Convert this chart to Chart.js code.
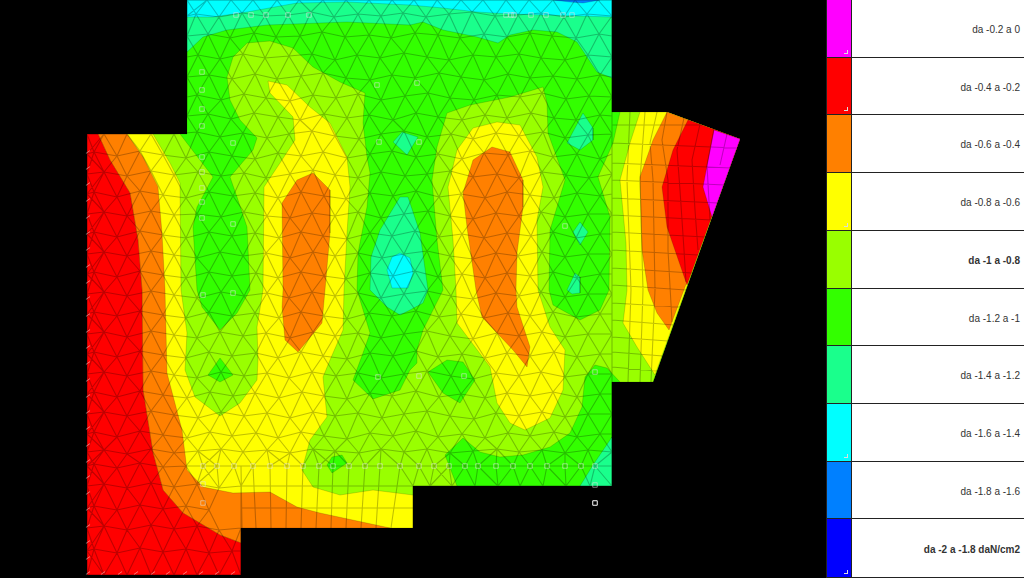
<!DOCTYPE html>
<html>
<head>
<meta charset="utf-8">
<style>
  html, body { margin: 0; padding: 0; background: #000; overflow: hidden; }
  #plot { position: absolute; left: 0; top: 0; }
  #legend { position: absolute; left: 826px; top: 0; width: 198px; height: 578px; font-family: "Liberation Sans", Arial, sans-serif; font-size: 10px; color: #333; }
  .row { position: absolute; left: 0; width: 198px; box-sizing: border-box; border-bottom: 1px solid #222; display: flex; background: #fff; }
  .swatch { width: 26px; border-left: 1px solid #222; border-right: 1px solid #222; box-sizing: border-box; position: relative; }
  .swatch i { position: absolute; right: 3px; bottom: 3px; width: 3px; height: 3px; border-right: 1px solid #ddd; border-bottom: 1px solid #ddd; }
  .label { flex: 1; text-align: right; padding-right: 4px; padding-top: 2px; align-self: center; }
</style>
</head>
<body>
<canvas id="plot" width="1024" height="578"></canvas>
<div id="legend"></div>
<script src="https://cdn.jsdelivr.net/npm/chart.js@4"></script>
<script>
// ================================================
// PRESSURE MAP - contour bands over a FEM mesh
// everything is in plan coordinates
// ================================================

// legend
const legendLabels = ['da -0.2 a 0', 'da -0.4 a -0.2', 'da -0.6 a -0.4', 'da -0.8 a -0.6', 'da -1 a -0.8',
  'da -1.2 a -1', 'da -1.4 a -1.2', 'da -1.6 a -1.4', 'da -1.8 a -1.6', 'da -2 a -1.8 daN/cm2'];
const legendColors = ['#ff00ff', '#ff0000', '#ff8000', '#ffff00', '#99ff00', '#33ff00', '#1aff8c', '#00ffff', '#0080ff', '#0000ff'];
const legendBold = [4, 9];
const legendCorners = [0, 1, 3, 7, 9];

// contour polygons, one list per region
const plateOutline = [[87,134],[187,134],[187,0],[612,0],[612,112],[667,112],[740,139],[653,382],[612,382],[612,486],[413,486],[413,528],[241,528],[241,575],[87,575]];
const topSpring = [[187,0],[612,0],[612,78],[597,72],[587,57],[577,42],[557,32],[533,30],[510,35],[498,43],[477,37],[443,30],[423,22],[410,25],[347,22],[267,25],[227,30],[203,37],[187,52]];
const topCyan = [[187,0],[612,0],[612,17],[510,14],[477,12],[443,8],[410,5],[347,2],[297,3],[247,12],[213,17],[187,17]];
const topBlue = [[553,0],[570,2],[583,3],[600,0]];
const limeMain = [[87,134],[180,134],[213,177],[197,207],[193,227],[197,290],[202,307],[220,330],[237,313],[250,290],[247,227],[237,197],[230,177],[253,150],[257,138],[240,120],[230,100],[227,77],[233,57],[247,43],[270,41],[293,48],[313,67],[340,82],[365,93],[363,123],[367,157],[370,173],[367,207],[358,253],[357,290],[367,323],[370,333],[363,353],[353,380],[373,399],[400,390],[410,370],[417,363],[417,350],[423,330],[433,310],[443,290],[437,240],[432,180],[437,147],[447,113],[470,105],[510,97],[543,87],[547,103],[548,133],[565,180],[557,207],[550,230],[549,290],[553,305],[580,320],[600,310],[609,290],[610,217],[598,177],[613,143],[620,112],[667,112],[740,139],[653,382],[620,382],[607,368],[595,365],[585,377],[582,407],[570,433],[550,447],[523,455],[500,457],[480,452],[463,438],[445,455],[457,486],[413,486],[413,528],[241,528],[241,575],[87,575]];
const greenBlobA = [[428,372],[447,360],[463,362],[475,380],[460,403],[443,393]];
const greenBlobB = [[208,375],[220,358],[233,375],[220,382]];
const greenBlobC = [[327,465],[332,457],[342,455],[347,463],[332,473]];
const springDrop = [[400,197],[408,197],[420,233],[428,290],[423,303],[410,310],[400,315],[387,307],[370,290],[371,257],[380,230]];
const cyanDrop = [[400,253],[410,258],[413,273],[408,288],[392,288],[387,270],[392,257]];
const springIsleA = [[393,142],[402,132],[418,137],[407,155]];
const springIsleB = [[567,143],[583,113],[593,128],[593,140],[580,150]];
const springIsleC = [[573,232],[580,222],[588,232],[580,245]];
const springIsleD = [[567,290],[575,273],[580,277],[580,293],[572,294]];
const springCorner = [[580,486],[593,465],[612,437],[612,486]];
const yellowMain = [[87,134],[153,134],[170,163],[180,183],[181,290],[187,333],[185,370],[195,397],[220,416],[240,403],[257,380],[258,360],[257,327],[263,290],[264,187],[280,163],[295,140],[293,117],[270,93],[268,81],[287,85],[310,107],[330,123],[347,157],[350,187],[347,233],[344,290],[343,330],[330,360],[323,377],[327,417],[310,440],[302,470],[313,487],[340,495],[373,490],[413,495],[413,528],[241,528],[241,575],[87,575]];
const yellowCentre = [[448,187],[457,150],[473,128],[497,122],[520,125],[537,157],[543,187],[537,220],[538,290],[550,327],[565,350],[563,390],[550,418],[525,430],[510,423],[497,403],[490,367],[457,323],[456,290],[453,240]];
const yellowRight = [[640,112],[667,112],[740,139],[655,375],[637,347],[623,323],[627,290],[626,243],[620,180],[630,143]];
const orangeLeft = [[98,134],[127,134],[143,157],[158,187],[162,233],[165,290],[167,373],[182,430],[187,470],[203,487],[233,493],[270,492],[297,507],[320,513],[390,528],[241,528],[241,543],[220,535],[183,513],[163,490],[153,453],[143,390],[142,290],[138,240],[130,193],[110,160]];
const orangeLobeA = [[283,290],[282,203],[297,180],[313,173],[330,190],[330,233],[325,290],[322,323],[298,352],[285,340],[282,307]];
const orangeLobeB = [[463,193],[473,160],[492,147],[510,152],[523,180],[523,207],[517,253],[516,290],[517,307],[530,347],[527,367],[513,350],[482,317],[476,290],[467,227]];
const orangeRight = [[667,112],[740,139],[669,330],[657,313],[648,290],[642,250],[640,177],[653,140]];
const redLeft = [[87,134],[98,134],[110,160],[130,193],[138,240],[142,290],[143,390],[153,453],[163,490],[183,513],[220,535],[241,543],[241,575],[87,575]];
const redRight = [[688,120],[740,139],[687,285],[667,227],[662,187],[673,150]];
const magentaTip = [[714,130],[740,139],[712,217],[703,187]];

// triangular mesh nodes, each row is x,y,x,y,...
const meshRows = [
  [187,0,207,0,231,0,253,0,277,0,299,0,323,0,346,0,369,0,392,0,414,0,437,0,461,0,483,0,506,0,529,0,553,0,575,0,598,0,612,0],
  [187,16,196,14,219,17,242,13,265,16,288,15,311,12,334,17,358,14,381,16,403,13,426,17,449,14,472,12,495,16,518,15,541,13,564,17,587,14,612,16],
  [187,36,208,34,230,38,254,33,276,37,300,36,322,32,345,37,369,35,391,38,415,33,438,35,460,38,484,34,507,37,530,33,552,36,576,38,599,34,612,36],
  [187,57,198,55,220,59,243,54,265,58,289,56,312,54,335,60,357,55,380,58,404,53,427,57,449,60,473,55,496,57,519,54,541,58,565,60,588,55,612,57],
  [187,77,209,75,232,79,255,74,277,79,301,76,323,73,346,78,370,80,392,75,415,78,439,73,461,77,484,80,508,74,530,78,553,76,577,79,600,75,612,77],
  [187,97,197,95,221,100,244,94,266,98,290,101,313,95,336,98,358,94,381,100,405,96,428,93,450,98,474,100,497,95,520,97,542,93,566,99,589,96,612,97],
  [187,116,208,114,231,119,254,113,278,117,300,120,324,114,347,118,369,115,393,120,416,113,438,117,462,120,485,115,507,118,531,113,554,118,576,120,600,115,612,116],
  [87,134,104,134,127,134,151,134,174,134,197,132,220,137,243,133,267,138,289,134,312,131,335,136,359,139,381,134,404,131,427,137,451,134,473,139,496,133,519,136,543,132,565,138,588,135,612,134],
  [87,154,94,152,117,156,140,151,163,155,186,158,209,152,232,156,255,159,278,153,301,156,323,152,347,158,370,154,392,151,416,157,438,154,462,159,484,153,508,155,530,151,553,157,577,154,600,159,612,154],
  [87,174,104,172,127,176,151,171,174,175,198,172,221,176,244,173,266,178,290,174,313,170,335,175,358,178,381,172,405,176,427,174,450,171,473,177,497,174,519,178,542,172,566,175,589,178,612,174],
  [87,194,94,192,117,197,140,191,163,195,186,198,209,192,233,196,255,193,278,198,301,192,324,196,346,199,370,193,393,196,416,191,439,197,461,194,485,198,507,192,530,195,554,198,577,193,600,196,612,194],
  [87,214,104,212,127,216,151,211,174,215,197,214,221,217,244,212,267,216,290,218,312,213,335,216,358,212,381,218,404,214,428,211,450,216,473,219,496,213,519,216,541,212,565,217,588,214,612,214],
  [87,234,94,232,117,237,140,231,163,235,186,238,209,232,232,236,255,233,279,238,301,232,323,236,347,239,370,233,392,236,415,231,439,237,462,234,484,238,507,233,531,236,553,232,576,238,600,234,612,234],
  [87,254,104,252,127,256,151,251,174,255,197,258,220,252,243,256,266,253,290,258,313,252,335,256,358,253,382,258,404,254,427,251,450,256,473,259,496,253,518,256,542,252,565,257,588,254,612,254],
  [87,274,94,272,117,277,140,271,163,275,186,278,209,272,232,276,256,273,278,278,301,272,324,276,346,279,370,273,393,276,415,271,438,277,462,274,485,278,507,273,530,276,553,272,577,278,600,274,612,274],
  [87,294,104,292,127,296,151,291,174,295,197,298,221,292,244,296,267,293,289,298,312,292,335,296,358,293,381,298,404,294,427,291,451,296,473,299,496,293,519,296,541,292,565,297,588,294,612,294],
  [87,314,94,312,117,316,140,311,163,315,186,318,209,312,232,316,255,313,279,318,301,312,324,316,347,319,369,313,392,316,416,311,439,317,461,314,484,318,508,313,530,316,553,312,576,317,600,314,612,314],
  [87,334,104,332,127,337,151,331,174,335,197,338,220,332,243,336,266,333,290,338,313,332,335,336,358,333,381,338,404,334,427,331,450,336,473,339,497,333,519,336,542,332,565,337,588,334,612,334],
  [87,354,94,352,117,357,140,351,163,355,186,358,209,352,232,356,256,353,278,358,301,352,323,356,347,359,370,353,393,356,416,351,438,357,462,354,485,358,507,353,530,356,554,352,577,357,600,354,612,354],
  [87,374,104,372,127,376,151,371,174,375,197,378,221,372,244,376,267,373,289,378,312,372,336,376,358,373,381,378,404,374,427,371,451,376,473,379,496,373,519,376,541,372,565,377,588,374,612,374],
  [87,394,94,392,117,397,140,391,163,395,187,398,210,392,233,396,255,393,279,398,302,392,324,396,347,399,370,393,392,396,416,391,439,397,461,394,485,398,507,393,530,396,553,392,577,397,600,394,612,394],
  [87,414,104,412,127,416,151,411,174,415,198,418,221,412,244,416,267,413,290,418,313,412,335,416,358,413,382,418,404,414,427,411,450,416,474,419,496,413,519,416,542,412,565,417,588,414,612,414],
  [87,434,94,432,117,437,140,431,163,435,187,438,210,432,232,436,256,433,278,438,301,432,324,436,347,439,370,433,393,436,416,431,438,437,462,434,485,438,508,433,530,436,554,432,577,437,600,434,612,434],
  [87,452,104,450,127,454,151,449,174,453,198,451,221,449,243,452,267,450,290,453,313,449,335,451,359,453,381,449,404,452,427,449,450,453,473,451,497,449,519,452,542,450,565,453,588,450,612,452],
  [87,466,94,464,117,468,140,463,163,467,186,466,203,466,217,466,234,466,253,466,270,466,287,466,303,466,319,466,333,466,349,466,365,466,380,466,400,466,419,466,434,466,449,466,465,466,478,466,496,466,513,466,530,466,547,466,565,466,581,466,595,466,612,466],
  [87,486,104,484,127,488,151,483,174,487,197,484,219,488,241,486,413,486,430,486,452,486,475,486,498,486,520,486,543,486,566,486,590,486,612,486],
  [87,508,94,506,117,510,140,505,163,509,186,506,209,510,241,508],
  [87,528,104,526,127,530,151,525,174,529,197,526,219,530,241,528],
  [87,551,94,549,117,553,140,548,163,552,186,549,209,553,232,551,241,551],
  [87,575,104,575,127,575,151,575,174,575,197,575,219,575,241,575]
];

// quad mesh lines on the right wing and the lower strip
const quadLines = [
  [[630,112],[627,180],[631,290],[628,382]],
  [[645,112],[640,180],[643,290],[640,382]],
  [[657,112],[650,143],[653,180],[655,290],[651,382]],
  [[667,112],[662,140],[668,180],[668,250],[672,322]],
  [[684,118],[677,150],[680,190],[684,250],[686,282]],
  [[700,124],[692,160],[695,210],[698,250]],
  [[714,129],[707,165],[710,220]],
  [[727,134],[720,165]],
  [[612,125],[702,125]],
  [[612,143],[736,148]],
  [[612,163],[731,168]],
  [[612,180],[725,185]],
  [[612,198],[718,203]],
  [[612,215],[712,220]],
  [[612,232],[705,237]],
  [[612,250],[698,255]],
  [[612,268],[692,273]],
  [[612,285],[686,290]],
  [[612,303],[680,307]],
  [[612,320],[674,325]],
  [[612,337],[668,341]],
  [[612,352],[663,356]],
  [[612,367],[657,371]],
  [[241,486],[413,486]],
  [[241,508],[413,508]],
  [[241,466],[242,528]], [[253,466],[256,528]], [[270,466],[271,528]], [[287,466],[286,528]],
  [[303,466],[301,528]], [[319,466],[316,528]], [[333,466],[331,528]], [[349,466],[346,528]],
  [[365,466],[361,528]], [[380,466],[376,528]], [[400,466],[391,528]]
];

// small square node markers
const nodeMarkers = [[236,15],[251,15],[266,15],[288,15],[309,15],[506,15],[511,15],[514,15],[531,15],[546,15],[563,15],[572,15],
  [202,72],[202,90],[202,109],[202,126],[202,157],[202,172],[202,188],[202,202],[202,218],[233,143],[233,224],[379,142],[419,142],[377,85],[417,83],[565,226],
  [203,295],[233,293],[378,377],[419,376],[464,376],[595,372],
  [203,466],[217,466],[234,466],[253,466],[270,466],[287,466],[303,466],[319,466],[333,466],[349,466],[365,466],[380,466],[400,466],
  [419,466],[434,466],[449,466],[465,466],[478,466],[496,466],[513,466],[530,466],[547,466],[565,466],[581,466],[595,466],
  [203,484],[203,503],[595,485]];
const loneNode = [[595,503]];

// little support ticks along the left and bottom edges
const edgeTicks = [[88,152],[88,168],[88,184],[88,200],[88,217],[88,233],[88,249],[88,266],[88,282],[88,298],[88,315],[88,331],[88,347],[88,363],[88,380],[88,396],[88,412],[88,428],[88,445],[88,461],[88,477],[88,493],[88,509],[88,526],[88,542],[88,558],
  [88,573],[103,573],[120,573],[136,573],[153,573],[168,573],[185,573],[201,573],[217,573],[233,573]];

const toPoints = list => list.map(p => ({ x: p[0], y: p[1] }));

function band(list, color) {
  const pts = toPoints(list);
  pts.push(pts[0]);
  return {
    data: pts,
    showLine: true,
    fill: 'shape',
    backgroundColor: color,
    borderColor: 'rgba(0,0,0,0.15)',
    borderWidth: 1,
    pointRadius: 0,
    tension: 0
  };
}

// join mesh nodes into one broken line
function buildMeshSegments() {
  const out = [];
  const gap = { x: NaN, y: NaN };
  const seg = (a, b) => { out.push(a, b, gap); };
  const nodes = meshRows.map(row => {
    const list = [];
    for (let i = 0; i < row.length; i += 2) list.push({ x: row[i], y: row[i + 1] });
    return list;
  });
  nodes.forEach((list, r) => {
    list.forEach((p, i) => {
      if (i > 0 && p.x - list[i - 1].x <= 30) seg(list[i - 1], p);
      if (r < nodes.length - 1) {
        nodes[r + 1].forEach(n => {
          if (Math.abs(n.x - p.x) <= 20) seg(p, n);
        });
      }
    });
  });
  quadLines.forEach(line => {
    line.forEach(p => out.push({ x: p[0], y: p[1] }));
    out.push(gap);
  });
  return out;
}

const C = { magenta: legendColors[0], red: legendColors[1], orange: legendColors[2], yellow: legendColors[3], lime: legendColors[4],
  green: legendColors[5], spring: legendColors[6], cyan: legendColors[7], blue: legendColors[8] };

// painted back to front
const layers = [
  band(plateOutline, C.green),
  band(topSpring, C.spring),
  band(topCyan, C.cyan),
  band(topBlue, C.blue),
  band(limeMain, C.lime),
  band(greenBlobA, C.green),
  band(greenBlobB, C.green),
  band(greenBlobC, C.green),
  band(springDrop, C.spring),
  band(cyanDrop, C.cyan),
  band(springIsleA, C.spring),
  band(springIsleB, C.spring),
  band(springIsleC, C.spring),
  band(springIsleD, C.spring),
  band(springCorner, C.spring),
  band(yellowMain, C.yellow),
  band(yellowCentre, C.yellow),
  band(yellowRight, C.yellow),
  band(orangeLeft, C.orange),
  band(orangeLobeA, C.orange),
  band(orangeLobeB, C.orange),
  band(orangeRight, C.orange),
  band(redLeft, C.red),
  band(redRight, C.red),
  band(magentaTip, C.magenta),
  {
    data: buildMeshSegments(),
    showLine: true,
    borderColor: 'rgba(0,0,0,0.25)',
    borderWidth: 1.1,
    pointRadius: 0,
    spanGaps: false,
    tension: 0
  },
  {
    data: toPoints(edgeTicks),
    pointStyle: 'line',
    pointRotation: -35,
    pointRadius: 2.5,
    borderColor: 'rgba(255,255,255,0.45)',
    borderWidth: 1
  },
  {
    data: toPoints(nodeMarkers),
    pointStyle: 'rect',
    pointRadius: 3.2,
    backgroundColor: 'transparent',
    borderColor: 'rgba(225,225,225,0.55)',
    borderWidth: 1
  },
  {
    data: toPoints(loneNode),
    pointStyle: 'rect',
    pointRadius: 3.2,
    backgroundColor: 'transparent',
    borderColor: '#fff',
    borderWidth: 1
  }
];
layers.forEach((d, i) => { d.order = layers.length - i; });

new Chart(document.getElementById('plot').getContext('2d'), {
  type: 'scatter',
  data: { datasets: layers },
  options: {
    responsive: false,
    animation: false,
    layout: { padding: 0, autoPadding: false },
    plugins: { legend: { display: false }, tooltip: { enabled: false } },
    scales: {
      x: { type: 'linear', display: false, min: 0, max: 1024 },
      y: { type: 'linear', display: false, min: 0, max: 578, reverse: true }
    }
  }
});

// legend panel
const legend = document.getElementById('legend');
legendLabels.forEach((label, i) => {
  const top = Math.round(i * 57.7);
  const bottom = i === legendLabels.length - 1 ? 578 : Math.round((i + 1) * 57.7);
  const row = document.createElement('div');
  row.className = 'row';
  row.style.top = top + 'px';
  row.style.height = (bottom - top) + 'px';
  const sw = document.createElement('div');
  sw.className = 'swatch';
  sw.style.background = legendColors[i];
  if (legendCorners.includes(i)) sw.appendChild(document.createElement('i'));
  const text = document.createElement('div');
  text.className = 'label';
  text.textContent = label;
  if (legendBold.includes(i)) text.style.fontWeight = 'bold';
  row.appendChild(sw);
  row.appendChild(text);
  legend.appendChild(row);
});
</script>
</body>
</html>
